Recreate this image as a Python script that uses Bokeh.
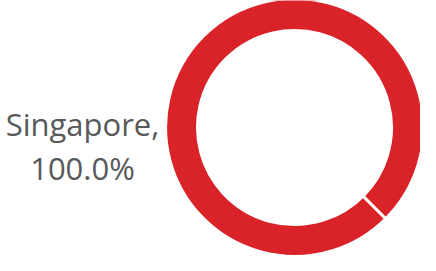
import math
from bokeh.plotting import figure
from bokeh.models import ColumnDataSource
from bokeh.core.properties import value
from bokeh.embed import file_html
from bokeh.resources import INLINE

# data
categories = ["Singapore"]
values = [100.0]
colors = ["#DA2229"]

total = sum(values)
start0 = -math.pi / 4
starts, ends = [], []
acc = start0
for v in values:
    starts.append(acc)
    acc = acc + 2 * math.pi * v / total * (1 - 1e-5)
    ends.append(acc)

W, H = 420, 255
cx, cy = 294, 128

p = figure(width=W, height=H, x_range=(0, W), y_range=(0, H),
           output_backend="svg", toolbar_location=None, min_border=0)
p.axis.visible = False
p.grid.visible = False
p.outline_line_color = None
p.background_fill_color = "white"

src = ColumnDataSource(dict(x=[cx] * len(values), y=[cy] * len(values),
                            start=starts, end=ends, color=colors))
p.annular_wedge(x="x", y="y", inner_radius=97, outer_radius=129,
                inner_radius_units="screen", outer_radius_units="screen",
                start_angle="start", end_angle="end", source=src,
                fill_color="color", line_color="white", line_width=3)

pct = [v / total * 100 for v in values]
lab1 = [f"{c}," for c in categories]
lab2 = [f"{q:.1f}%" for q in pct]
p.text(x=[82], y=[132], text=lab1, text_align="center", text_baseline="alphabetic",
       text_font=value("Open Sans"), text_font_size="31px", text_color="#58595B")
p.text(x=[82], y=[88], text=lab2, text_align="center", text_baseline="alphabetic",
       text_font=value("Open Sans"), text_font_size="31px", text_color="#58595B")

open("out.html", "w").write(file_html(p, INLINE))
